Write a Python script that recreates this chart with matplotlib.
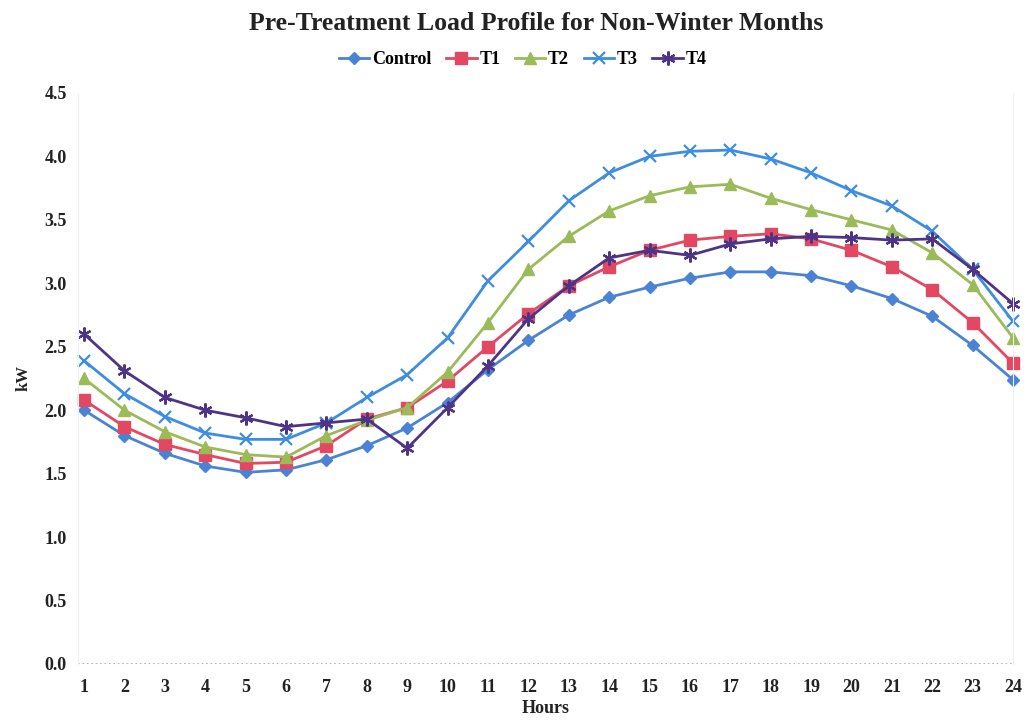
import matplotlib.pyplot as plt

# data
hours = list(range(1, 25))
control = [2.00, 1.80, 1.66, 1.56, 1.51, 1.53, 1.61, 1.72, 1.86, 2.06, 2.32, 2.55,
           2.75, 2.89, 2.97, 3.04, 3.09, 3.09, 3.06, 2.98, 2.88, 2.74, 2.51, 2.24]
t1 = [2.08, 1.87, 1.73, 1.65, 1.58, 1.59, 1.72, 1.93, 2.02, 2.23, 2.50, 2.76,
      2.98, 3.13, 3.26, 3.34, 3.37, 3.39, 3.35, 3.26, 3.13, 2.95, 2.69, 2.37]
t2 = [2.25, 2.00, 1.83, 1.71, 1.65, 1.63, 1.80, 1.92, 2.02, 2.30, 2.69, 3.11,
      3.37, 3.57, 3.69, 3.76, 3.78, 3.67, 3.58, 3.50, 3.42, 3.24, 2.99, 2.57]
t3 = [2.39, 2.13, 1.95, 1.82, 1.77, 1.77, 1.90, 2.10, 2.28, 2.57, 3.02, 3.33,
      3.65, 3.87, 4.00, 4.04, 4.05, 3.98, 3.87, 3.73, 3.61, 3.41, 3.11, 2.70]
t4 = [2.60, 2.31, 2.10, 2.00, 1.94, 1.87, 1.90, 1.93, 1.70, 2.02, 2.35, 2.72,
      2.98, 3.20, 3.26, 3.22, 3.31, 3.35, 3.37, 3.36, 3.34, 3.35, 3.11, 2.84]

plt.rcParams['font.family'] = ['Liberation Serif', 'DejaVu Serif']
plt.rcParams['font.weight'] = 'bold'

fig = plt.figure(figsize=(10.27, 7.26), dpi=100)
ax = fig.add_axes([0.076, 0.0854, 0.9104, 0.7866])

series = [
    ('Control', control, '#4a83d4', 'D', 6),
    ('T1', t1, '#e34862', 's', 8),
    ('T2', t2, '#9bbb59', '^', 8),
    ('T3', t3, '#3f8de0', 'x', 9),
    ('T4', t4, '#4e3486', (6, 2, 0), 10),
]
for name, vals, col, mk, ms in series:
    ax.plot(hours, vals, color=col, marker=mk, markersize=ms, linewidth=2,
            markeredgewidth=1.6 if mk in ('x', (6, 2, 0)) else 1,
            markeredgecolor=col, label=name, clip_on=False)

ax.axhline(0, color='#9aaac4', linestyle=':', linewidth=1.2)

ax.set_xlim(0.85, 24)
ax.set_ylim(0, 4.5)
ax.set_xticks(hours)
ax.set_yticks([0, 0.5, 1.0, 1.5, 2.0, 2.5, 3.0, 3.5, 4.0, 4.5])
ax.set_yticklabels(['%.1f' % v for v in ax.get_yticks()])
ax.tick_params(length=0, labelsize=13, colors='#222222')
ax.tick_params(axis='x', pad=11)
ax.tick_params(axis='y', pad=8)
for s in ['top', 'bottom']:
    ax.spines[s].set_visible(False)
for s in ['left', 'right']:
    ax.spines[s].set_color('#f0f0f0')

ax.set_xlabel('Hours', fontsize=13, fontweight='bold', color='#222222', labelpad=3)
ax.set_ylabel('kW', fontsize=12, fontweight='bold', color='#222222')
ax.yaxis.set_label_coords(-0.05, 0.5)

fig.text(0.522, 0.968, 'Pre-Treatment Load Profile for Non-Winter Months',
         ha='center', va='center', fontsize=18.5, fontweight='bold', color='#222222')
fig.legend(loc='center', bbox_to_anchor=(0.509, 0.918), ncol=5, frameon=False,
           fontsize=13, handlelength=1.7, columnspacing=0.8, handletextpad=0.15)

fig.savefig('out.png', dpi=100)
